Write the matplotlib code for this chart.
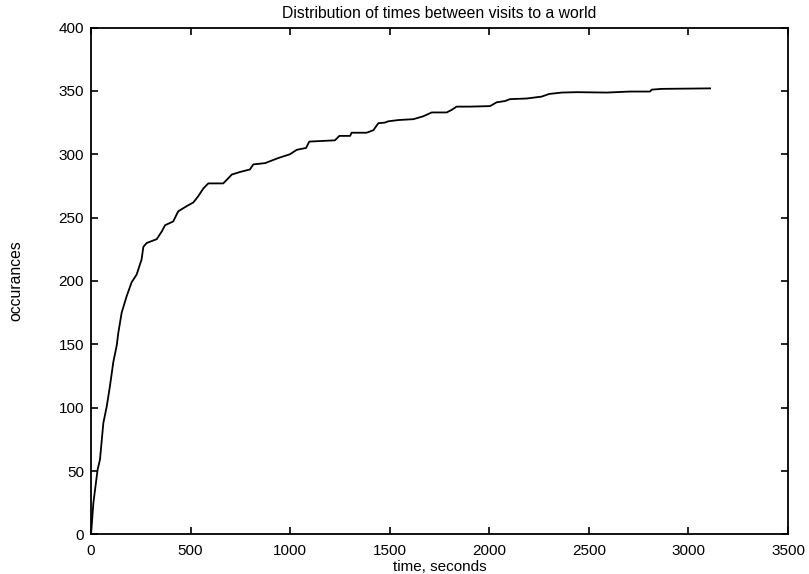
import matplotlib.pyplot as plt

# curve (time in seconds, cumulative count)
tiempo = [0, 12, 33, 45, 62, 79, 95, 112, 129, 137, 154, 179, 204, 229, 254, 263,
          280, 330, 355, 372, 413, 438, 480, 514, 539, 564, 589, 664, 689, 707,
          748, 798, 815, 874, 907, 940, 999, 1033, 1080, 1096, 1225, 1247, 1301,
          1309, 1384, 1418, 1443, 1476, 1493, 1543, 1619, 1669, 1711, 1786, 1811,
          1836, 1903, 2004, 2037, 2079, 2104, 2188, 2263, 2301, 2364, 2439, 2590,
          2707, 2807, 2816, 2866, 3109]
ocurrencias = [0, 25, 51, 59, 88, 101, 117, 136, 149, 159, 175, 188, 199, 205, 217, 227,
               230, 233, 239, 244, 247, 255, 259, 262, 267, 273, 277, 277, 281, 284,
               286, 288, 292, 293, 295, 297, 300, 303.5, 305, 310, 311, 314.5, 314.5,
               317, 317, 319, 324.5, 325, 326, 327, 327.7, 330, 333, 333, 335,
               337.6, 337.6, 338, 341, 342, 343.5, 344, 345.5, 347.6, 348.7, 349, 348.7,
               349.5, 349.5, 351, 351.6, 352]

xticks = [0, 500, 1000, 1500, 2000, 2500, 3000, 3500]
yticks = [0, 50, 100, 150, 200, 250, 300, 350, 400]

plt.rcParams['font.family'] = ['Liberation Sans', 'DejaVu Sans']

fig = plt.figure(figsize=(8.09, 5.74), dpi=100)
ax = fig.add_axes([0.1125, 0.069, 0.8615, 0.883])

ax.plot(tiempo, ocurrencias, color='black', linewidth=1.3)

ax.set_xlim(0, 3500)
ax.set_ylim(0, 400)
ax.set_xticks(xticks)
ax.set_yticks(yticks)
ax.tick_params(direction='in', top=True, right=True, length=5, width=1.2,
               labelsize=11, colors='black')
ax.tick_params(axis='x', pad=7)
ax.tick_params(axis='y', pad=5)
for s in ax.spines.values():
    s.set_linewidth(1.3)

ax.set_title('Distribution of times between visits to a world', fontsize=11.3, pad=7)
# x label sits right under the tick labels, as in the original
ax.xaxis.set_label_coords(0.5, -0.064)
ax.set_xlabel('time, seconds', fontsize=11, va='center')
ax.set_ylabel('occurances', fontsize=11.3, labelpad=25)

fig.savefig('out.png', dpi=100)
plt.close()
